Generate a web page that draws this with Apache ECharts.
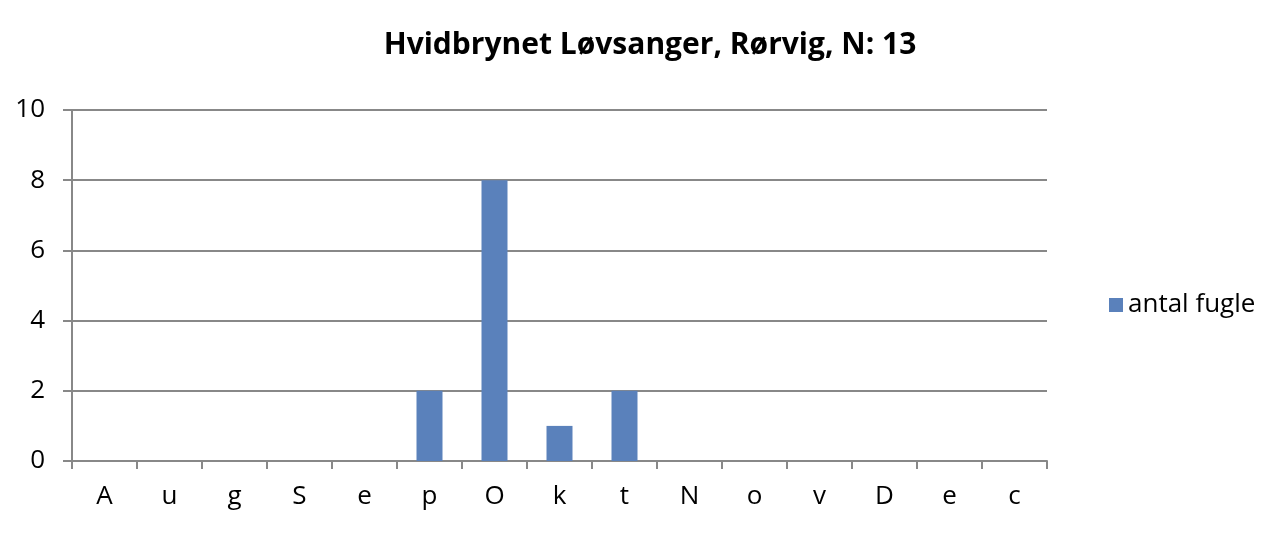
<!DOCTYPE html>
<html><head><meta charset="utf-8">
<script src="https://cdn.jsdelivr.net/npm/echarts@6/dist/echarts.min.js"></script>
<style>html,body{margin:0;padding:0;background:#fff}#c{width:1272px;height:534px}</style>
</head><body><div id="c"></div>
<script>
const categories = ['A','u','g','S','e','p','O','k','t','N','o','v','D','e','c'];
const values = [0,0,0,0,0,2,8,1,2,0,0,0,0,0,0];
const seriesName = 'antal fugle';
const titleText = 'Hvidbrynet Løvsanger, Rørvig, N: 13';
const font = 'Open Sans';
const chart = echarts.init(document.getElementById('c'));
chart.setOption({
  animation:false,
  title:{text:titleText,left:645,top:25,textAlign:'center',textStyle:{fontFamily:font,fontSize:30,fontWeight:'bold',color:'#000'}},
  legend:{data:[seriesName],orient:'vertical',left:1104,top:287,itemWidth:14,itemHeight:14,itemGap:8,icon:'rect',
    textStyle:{fontFamily:font,fontSize:26,color:'#000'}},
  grid:{left:72,right:225,top:110,bottom:73,containLabel:false},
  xAxis:{type:'category',data:categories,
    axisLine:{lineStyle:{color:'#888',width:2}},
    axisTick:{show:true,length:8,lineStyle:{color:'#888',width:2}},
    axisLabel:{fontFamily:font,fontSize:26,color:'#000',margin:23}},
  yAxis:{type:'value',min:0,max:10,interval:2,
    axisLine:{show:true,lineStyle:{color:'#888',width:2}},
    axisTick:{show:true,length:9,lineStyle:{color:'#888',width:2}},
    splitLine:{lineStyle:{color:'#888',width:2}},
    axisLabel:{fontFamily:font,fontSize:26,color:'#000',margin:27}},
  series:[{name:seriesName,type:'bar',data:values,barWidth:26,itemStyle:{color:'#5A81BB'}}]
});
</script></body></html>
